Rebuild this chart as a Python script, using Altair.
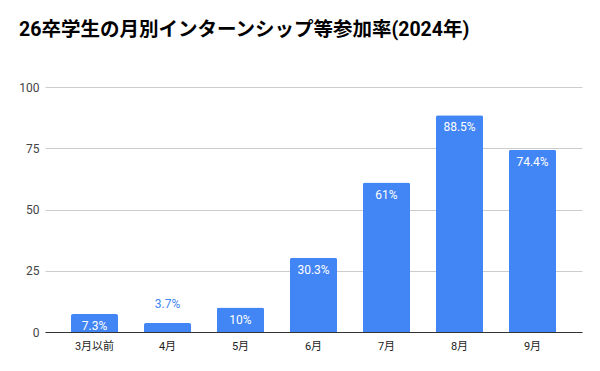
import altair as alt
import pandas as pd

months = ["3月以前", "4月", "5月", "6月", "7月", "8月", "9月"]
rates = [7.3, 3.7, 10, 30.3, 61, 88.5, 74.4]
labels = ["7.3%", "3.7%", "10%", "30.3%", "61%", "88.5%", "74.4%"]
y_ticks = [0, 25, 50, 75, 100]

df = pd.DataFrame({"month": months, "rate": rates, "label": labels})
df["outside"] = df["rate"] < 5

FONT = "Roboto, 'Noto Sans CJK JP', sans-serif"

x = alt.X("month:N", sort=months, title=None,
          scale=alt.Scale(paddingInner=0.356, paddingOuter=0.356),
          axis=alt.Axis(labelAngle=0, ticks=False, domainColor="#333333",
                        labelColor="#222222", labelFontSize=11, labelFont=FONT,
                        labelPadding=8, grid=False))
y = alt.Y("rate:Q", title=None,
          scale=alt.Scale(domain=[0, 100], nice=False),
          axis=alt.Axis(values=y_ticks, ticks=False, domain=False,
                        gridColor="#cccccc", labelColor="#444444",
                        labelFontSize=12, labelFont=FONT, labelPadding=6))

base = alt.Chart(df)

bars = base.mark_bar(color="#4285f4", cornerRadiusTopLeft=2,
                     cornerRadiusTopRight=2).encode(x=x, y=y)

inside = base.transform_filter("!datum.outside").mark_text(
    color="white", fontSize=12, font=FONT, baseline="alphabetic", dy=16
).encode(x=alt.X("month:N", sort=months), y="rate:Q", text="label:N")

outside = base.transform_filter("datum.outside").mark_text(
    color="#4285f4", fontSize=12, font=FONT, baseline="alphabetic", dy=-15
).encode(x=alt.X("month:N", sort=months), y="rate:Q", text="label:N")

chart = alt.layer(bars, inside, outside).properties(
    width=537, height=245,
    title=alt.TitleParams(
        "26卒学生の月別インターンシップ等参加率(2024年)",
        anchor="start", frame="group", dx=-26, offset=41,
        fontSize=19.5, fontWeight="bold", font=FONT, color="#000000"),
    autosize=alt.AutoSizeParams(type="none"),
    padding={"left": 37, "top": 79, "right": 10, "bottom": 20},
).configure_view(stroke=None)

chart.save("out.html", embed_options={"renderer": "svg", "actions": False})
